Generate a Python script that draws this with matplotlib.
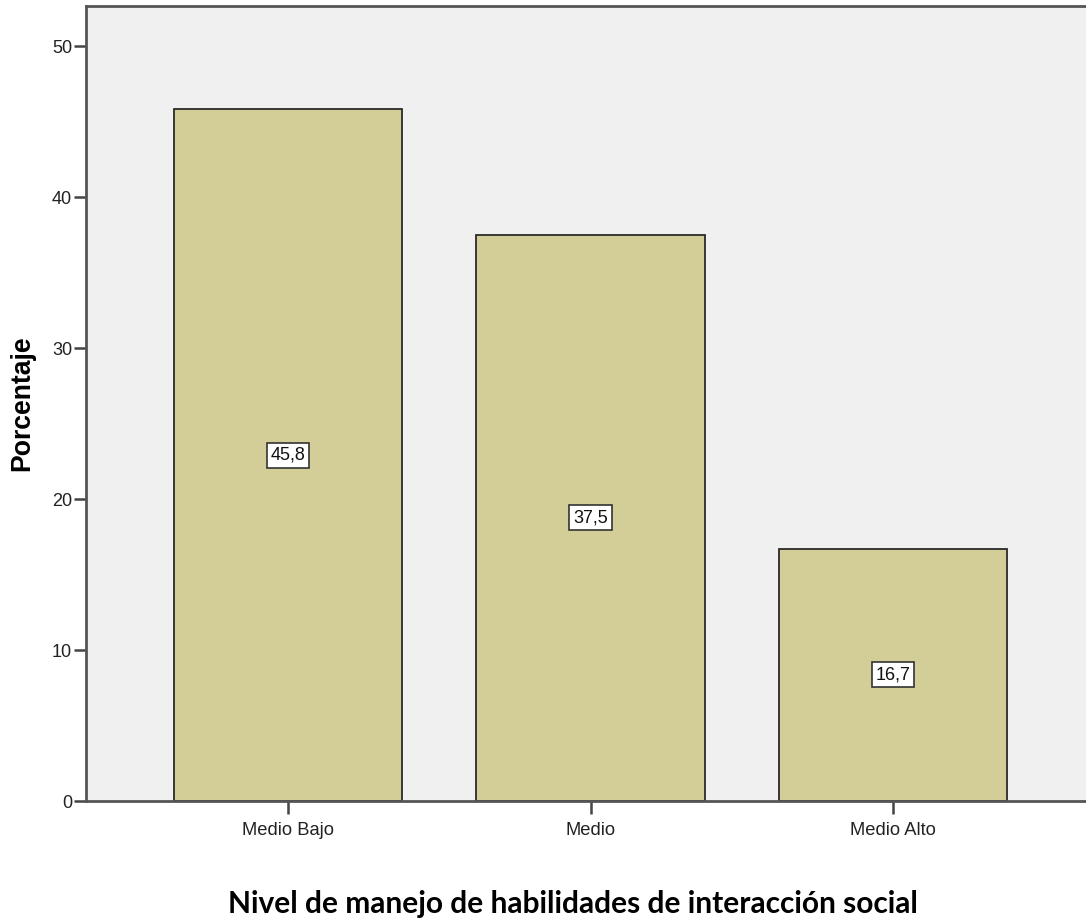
import matplotlib.pyplot as plt
import numpy as np

plt.rcParams['font.family'] = ['Liberation Sans', 'DejaVu Sans']

categorias = ['Medio Bajo', 'Medio', 'Medio Alto']
porcentajes = [45.8, 37.5, 16.7]
etiquetas = ['45,8', '37,5', '16,7']
yticks = [0, 10, 20, 30, 40, 50]
titulo = 'Nivel de manejo de habilidades de interacción social'

fig = plt.figure(figsize=(10.86, 9.19), dpi=100)
ax = fig.add_axes([86 / 1086, 118 / 919, 1009 / 1086, 795 / 919])
ax.set_facecolor('#f0f0f0')

x = np.arange(len(categorias))
ax.bar(x, porcentajes, width=0.754, color='#d3ce97', edgecolor='#2a2a2a', linewidth=1.3, zorder=2)

# etiquetas de valor en el centro de cada barra
for xi, v, t in zip(x, porcentajes, etiquetas):
    ax.text(xi, v / 2, t, ha='center', va='center', fontsize=13, color='#111111', zorder=3,
            bbox=dict(boxstyle='square,pad=0.22', facecolor='white', edgecolor='#333333', linewidth=1.2))

ax.set_xlim(-0.668, 2.668)
ax.set_ylim(0, 52.65)
ax.set_xticks(x)
ax.set_xticklabels(categorias, fontsize=13.2, color='#222222')
ax.set_yticks(yticks)
ax.set_yticklabels([str(v) for v in yticks], fontsize=13, color='#222222')
ax.tick_params(axis='y', length=9, width=1.8, color='#444444', pad=1)
ax.tick_params(axis='x', length=9, width=1.8, color='#444444', pad=6)

for s in ['left', 'bottom', 'top']:
    ax.spines[s].set_color('#555555')
    ax.spines[s].set_linewidth(2)
ax.spines['right'].set_visible(False)

ax.set_ylabel('Porcentaje', fontsize=19.2, fontweight='bold', labelpad=12)

tt = fig.text(573 / 1086, 1 - 913 / 919, titulo, ha='center', va='baseline',
              fontsize=20, fontweight='bold', family=['Lato', 'DejaVu Sans'])
# ajustar el tamaño del título para que ocupe ~690 px de ancho
fig.canvas.draw()
w = tt.get_window_extent().width
tt.set_fontsize(20 * 690 / w)

fig.savefig('out.png', dpi=100)
